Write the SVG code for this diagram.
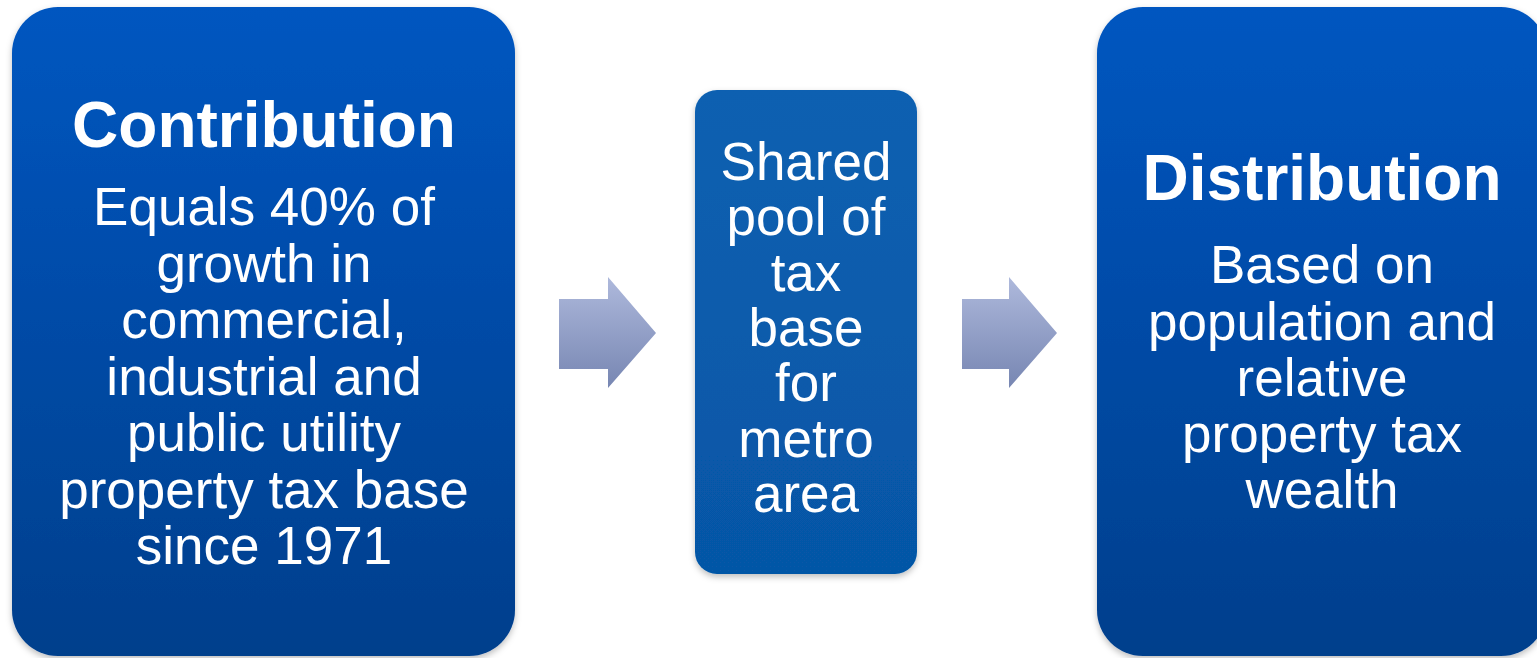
<svg xmlns="http://www.w3.org/2000/svg" width="1537" height="658" viewBox="0 0 1537 658">
  <defs>
    <linearGradient id="bigFill" x1="0" y1="0" x2="0" y2="1">
      <stop offset="0" stop-color="#0256C0"/>
      <stop offset="1" stop-color="#023F8C"/>
    </linearGradient>
    <linearGradient id="midFill" x1="0" y1="0" x2="0" y2="1">
      <stop offset="0" stop-color="#0A60B1"/>
      <stop offset="1" stop-color="#0656A6"/>
    </linearGradient>
    <linearGradient id="arrowFill" x1="0" y1="0" x2="0" y2="1">
      <stop offset="0" stop-color="#AEB9DC"/>
      <stop offset="1" stop-color="#7786B2"/>
    </linearGradient>
    <filter id="shadow" x="-10%" y="-10%" width="120%" height="120%">
      <feDropShadow dx="0" dy="3" stdDeviation="3" flood-color="#000" flood-opacity="0.25"/>
    </filter>
  </defs>
  <style>
    .title { font-family: "Liberation Sans", Arial, sans-serif; font-weight: bold; font-size: 64px; fill: #FFFFFF; text-anchor: middle; }
    .body { font-family: "Liberation Sans", Arial, sans-serif; font-size: 53px; fill: #FFFFFF; text-anchor: middle; }
  </style>
  <rect width="1537" height="658" fill="#FFFFFF"/>

  <g id="contribution">
    <rect x="12" y="7" width="503" height="649" rx="46" ry="46" fill="url(#bigFill)" filter="url(#shadow)"/>
    <text class="title" x="264" y="147">Contribution</text>
    <text class="body" x="264" y="225">Equals 40% of</text>
    <text class="body" x="264" y="282">growth in</text>
    <text class="body" x="264" y="338">commercial,</text>
    <text class="body" x="264" y="395">industrial and</text>
    <text class="body" x="264" y="451">public utility</text>
    <text class="body" x="264" y="508">property tax base</text>
    <text class="body" x="264" y="564">since 1971</text>
  </g>

  <g id="shared-pool">
    <rect x="695" y="90" width="222" height="484" rx="22" ry="22" fill="url(#midFill)" filter="url(#shadow)"/>
    <text class="body" x="806" y="180">Shared</text>
    <text class="body" x="806" y="235">pool of</text>
    <text class="body" x="806" y="291">tax</text>
    <text class="body" x="806" y="346">base</text>
    <text class="body" x="806" y="401">for</text>
    <text class="body" x="806" y="457">metro</text>
    <text class="body" x="806" y="512">area</text>
  </g>

  <g id="distribution">
    <rect x="1097" y="7" width="450" height="649" rx="46" ry="46" fill="url(#bigFill)" filter="url(#shadow)"/>
    <text class="title" x="1322" y="200">Distribution</text>
    <text class="body" x="1322" y="283">Based on</text>
    <text class="body" x="1322" y="340">population and</text>
    <text class="body" x="1322" y="396">relative</text>
    <text class="body" x="1322" y="452">property tax</text>
    <text class="body" x="1322" y="508">wealth</text>
  </g>

  <g id="connectors">
    <polygon points="559,299 608,299 608,277 656,333 608,388 608,369 559,369" fill="url(#arrowFill)"/>
    <polygon points="962,299 1009,299 1009,277 1057,333 1009,388 1009,369 962,369" fill="url(#arrowFill)"/>
  </g>
</svg>
